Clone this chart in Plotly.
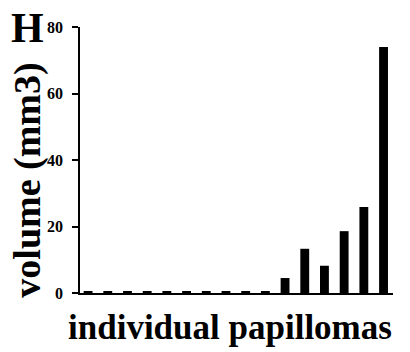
import plotly.graph_objects as go

categories = list(range(16))
volumes = [0.5, 0.5, 0.5, 0.5, 0.5, 0.5, 0.5, 0.5, 0.5, 0.5, 4.5, 13.3, 8.2, 18.6, 25.9, 74.0]
y_ticks = [0, 20, 40, 60, 80]

FONT = "'Liberation Serif', 'Times New Roman', serif"

fig = go.Figure(go.Bar(x=categories, y=volumes, width=0.45,
                       marker=dict(color="black", line=dict(width=0))))

fig.update_layout(
    width=410, height=352,
    margin=dict(l=80, r=17, t=27, b=59),
    paper_bgcolor="white", plot_bgcolor="white",
    showlegend=False,
    xaxis=dict(range=[-0.41, 15.48], showline=True, linecolor="black", linewidth=2,
               showticklabels=False, ticks="", showgrid=False, zeroline=False),
    yaxis=dict(range=[0, 80], showline=True, linecolor="black", linewidth=1.5,
               tickvals=y_ticks, ticks="outside", ticklen=6, tickwidth=1.5, tickcolor="black",
               ticklabelstandoff=6,
               tickfont=dict(family=FONT, size=16, color="black", weight="bold"),
               showgrid=False, zeroline=False),
    annotations=[
        dict(text="volume (mm3)", xref="paper", yref="paper", x=-0.167, y=0.425,
             textangle=-90, showarrow=False, xanchor="center", yanchor="middle",
             font=dict(family=FONT, size=38, color="black", weight="bold")),
        dict(text="H", xref="paper", yref="paper", x=-0.169, y=0.996,
             showarrow=False, xanchor="center", yanchor="middle",
             font=dict(family=FONT, size=42, color="black", weight="bold")),
        dict(text="individual papillomas", xref="paper", yref="paper", x=0.478, y=-0.128,
             showarrow=False, xanchor="center", yanchor="middle",
             font=dict(family=FONT, size=35, color="black", weight="bold")),
    ],
)

fig.write_html("out.html")
